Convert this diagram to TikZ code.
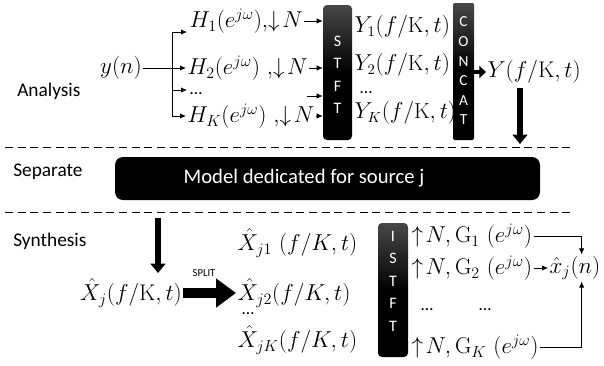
\documentclass[tikz,border=0pt]{standalone}
\usepackage{amsmath,amssymb}
\usepackage{fontspec}
\setsansfont{Carlito}
\usetikzlibrary{arrows.meta}

\begin{document}
\begin{tikzpicture}[x=0.75pt,y=-0.75pt]
    \tikzstyle{lbl}=[font=\sffamily\fontsize{14.5}{16}\selectfont, inner sep=0pt]
    \tikzstyle{eq}=[font=\fontsize{17}{20}\selectfont, inner sep=1pt]
    \tikzstyle{eqs}=[font=\fontsize{16.3}{18}\selectfont, inner sep=1pt]
    \tikzstyle{dots}=[font=\sffamily\fontsize{13}{14}\selectfont, inner sep=1pt]
    \tikzstyle{bar}=[rounded corners=3pt, top color=black!72, bottom color=black, middle color=black, draw=none]
    \tikzstyle{bartxt}=[text=white, font=\sffamily\fontsize{12}{16.9}\selectfont, align=center, inner sep=0pt]
    \tikzstyle{tip}=[line width=0.6pt, -{Latex[length=4.5pt,width=4pt]}]
    \tikzstyle{fat}=[line width=5pt, -{Triangle[length=7pt,width=11pt]}]
    \useasboundingbox (0,0) rectangle (604,365);
    \node[lbl, anchor=west] (ana) at (17,91) {Analysis};
    \node[lbl, anchor=west] (sep) at (13,172) {Separate};
    \node[lbl, anchor=west] (syn) at (13,241) {Synthesis};
    \draw[dashed, dash pattern=on 6pt off 3.5pt] (5,147) -- (570,147);
    \draw[dashed, dash pattern=on 6pt off 3.5pt] (5,212) -- (570,212);
    % analysis
    \node[eq] (y) at (121,68) {$y(n)$};
    \coordinate (br) at (172,68);
    \coordinate (a1) at (187,32);
    \coordinate (a3) at (187,90);
    \node[eq, anchor=west] (h1) at (188,21) {$H_1(e^{j\omega}),\!\downarrow\! N$};
    \node[eq, anchor=west] (h2) at (186,68) {$H_2(e^{j\omega})\ ,\!\downarrow\! N$};
    \node[dots] (hd) at (196,94) {…};
    \node[eq, anchor=west] (hk) at (186,116) {$H_K(e^{j\omega})\ ,\!\downarrow\! N$};
    \draw[line width=0.6pt] (y) -- (br);
    \draw[tip] (br) |- (a1);
    \draw[tip] (br) -- (h2);
    \draw[tip] (br) |- (a3);
    \draw[tip] (br) |- (hk);
    \node[bar, minimum width=21.75pt, minimum height=101.25pt] (stft) at (337.5,72.5) {};
    \node[bartxt] (stftt) at (337.5,75) {S\\T\\F\\T};
    \coordinate (d1) at (307,96);
    \draw[tip] (h1) -- (h1 -| stft.west);
    \draw[tip] (h2) -- (h2 -| stft.west);
    \draw[tip] (d1) -- (d1 -| stft.west);
    \draw[tip] (hk) -- (hk -| stft.west);
    \node[eqs, anchor=west] (y1) at (353,27) {$Y_1(f/\mathrm{K},t)$};
    \node[eqs, anchor=west] (y2) at (353,65) {$Y_2(f/\mathrm{K},t)$};
    \node[dots] (yd) at (366,93) {…};
    \node[eqs, anchor=west] (yk) at (353,113) {$Y_K(f/\mathrm{K},t)$};
    \node[bar, rounded corners=1pt, minimum width=15.75pt, minimum height=102.75pt] (cat) at (463.5,71.5) {};
    \node[bartxt, font=\sffamily\fontsize{11.5}{14.7}\selectfont] (catt) at (463.5,71) {C\\O\\N\\C\\A\\T};
    \node[eq, anchor=west] (Y) at (486,72) {$Y(f/\mathrm{K},t)$};
    \draw[line width=3.5pt, -{Triangle[length=5pt,width=9pt]}] (cat.east |- Y) -- (Y.west);
    \coordinate (s1) at (520,88);
    \coordinate (e1) at (520,144);
    \draw[fat] (s1) -- (e1);
    % separate
    \node[rounded corners=6pt, fill=black, minimum width=318.75pt, minimum height=32.25pt] (model) at (327.5,178.5) {};
    \node[text=white, font=\sffamily\fontsize{15.5}{18}\selectfont] (modelt) at (304,178) {Model dedicated for source j};
    % synthesis
    \coordinate (s2) at (158,218);
    \coordinate (e2) at (158,273);
    \draw[fat] (s2) -- (e2);
    \node[eq] (xj) at (131,293) {$\hat{X}_j(f/\mathrm{K},t)$};
    \node[eq, anchor=west] (x1) at (236,243) {$\hat{X}_{j1}\ (f/K,t)$};
    \node[eq, anchor=west] (x2) at (236,293) {$\hat{X}_{j2}(f/K,t)$};
    \node[dots] (xd) at (248,314) {…};
    \node[eq, anchor=west] (xk) at (236,340) {$\hat{X}_{jK}(f/K,t)$};
    \node[font=\sffamily\fontsize{8}{9}\selectfont] (split) at (204,273) {SPLIT};
    \draw[line width=7.5pt, -{Triangle[length=15pt,width=21pt]}] (xj) -- (x2);
    \node[bar, minimum width=22.5pt, minimum height=100.5pt] (istft) at (393,290) {};
    \node[bartxt] (istftt) at (393,281) {I\\S\\T\\F\\T};
    \node[eq, anchor=west] (g1) at (410,236) {$\uparrow\! N,\mathrm{G}_1\ (e^{j\omega})$};
    \node[eq, anchor=west] (g2) at (410,268) {$\uparrow\! N,\mathrm{G}_2\ (e^{j\omega})$};
    \node[dots] (gd1) at (427,310) {…};
    \node[dots] (gd2) at (485,310) {…};
    \node[eq, anchor=west] (gk) at (410,347) {$\uparrow\! N,\mathrm{G}_K\ (e^{j\omega})$};
    \node[eq] (xo) at (575,268) {$\hat{x}_j(n)$};
    \draw[tip] (g1) -| ([xshift=5pt]xo.north);
    \draw[tip] (g2) -- (xo);
    \draw[tip] (gk) -| ([xshift=5pt]xo.south);
\end{tikzpicture}
\end{document}
